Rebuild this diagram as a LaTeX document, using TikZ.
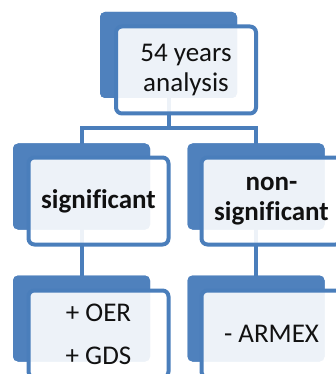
\documentclass[tikz,border=0pt]{standalone}
\usepackage{fontspec}
\setmainfont{Carlito}[Ligatures=NoCommon]
\definecolor{obl}{HTML}{4F81BD}
\definecolor{obd}{HTML}{4A7EBB}
\definecolor{txt}{HTML}{111111}
\begin{document}
\begin{tikzpicture}[x=1pt,y=1pt,
  backbox/.style={fill=obl, draw=none, rounded corners=5pt, minimum width=137pt, minimum height=86pt, inner sep=0pt},
  frontbox/.style={fill=white, fill opacity=0.9, text opacity=1, draw=obd, line width=4pt, rounded corners=6pt,
     minimum width=140pt, minimum height=87pt, inner sep=0pt, align=center, text=txt,
     font=\fontsize{27}{30}\selectfont},
  boldbox/.style={frontbox, font=\fontsize{27}{30}\selectfont\bfseries},
  conn/.style={draw=obd, line width=4pt}]
\useasboundingbox (0,0) rectangle (336,-374);
\coordinate (j) at (168.5,-128);
% back boxes
\node[backbox] (b1) at (168.5,-55) {};
\node[backbox] (b2) at (81.5,-186.5) {};
\node[backbox] (b3) at (256,-186.5) {};
\node[backbox] (b4) at (81.5,-318.5) {};
\node[backbox] (b5) at (256,-318.5) {};
% connectors
\draw[conn] (b1.center) -- (j);
\draw[conn] (j) -| (b2.center);
\draw[conn] (j) -| (b3.center);
\draw[conn] (b2.center) -- (b4.center);
\draw[conn] (b3.center) -- (b5.center);
% back boxes again, over the connectors
\node[backbox] at (b1) {};
\node[backbox] at (b2) {};
\node[backbox] at (b3) {};
\node[backbox] at (b4) {};
\node[backbox] at (b5) {};
% front boxes
\node[frontbox] (f1) at (186,-70) {54 years\\analysis};
\node[boldbox] (f2) at (98.5,-201) {significant};
\node[boldbox] (f3) at (271.5,-201) {non-\\significant};
\node[frontbox] (f4) at (98.5,-334) {+ OER\\[13pt]+ GDS};
\node[frontbox] (f5) at (271.5,-334) {- ARMEX};
\end{tikzpicture}
\end{document}
